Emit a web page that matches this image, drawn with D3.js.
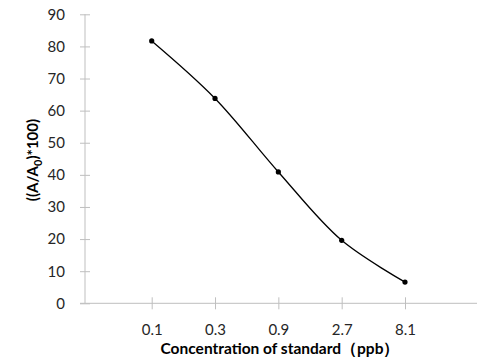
<!DOCTYPE html>
<html>
<head>
<meta charset="utf-8">
<script src="https://cdn.jsdelivr.net/npm/d3@7"></script>
<style>
  body { margin: 0; background: #fff; }
  text { font-family: Lato, "Open Sans", sans-serif; }
</style>
</head>
<body>
<div id="chart"></div>
<script>
// data
var categories = ["0.1", "0.3", "0.9", "2.7", "8.1"];
var values = [81.7, 63.8, 40.9, 19.6, 6.6];
var yTicks = [0, 10, 20, 30, 40, 50, 60, 70, 80, 90];

var width = 480, height = 360;
var axisColor = "#bfbfbf", textColor = "#262626";

var svg = d3.select("#chart").append("svg")
    .attr("width", width)
    .attr("height", height);

//scales
var x = d3.scalePoint().domain(categories).range([151.7, 405]);
var y = d3.scaleLinear().domain([0, 90]).range([303.3, 14.3]);

// y axis
var yAxis = svg.append("g")
    .attr("transform", "translate(85,0)")
    .call(d3.axisLeft(y).tickValues(yTicks).tickSize(5).tickPadding(15));
yAxis.select(".domain").remove();
yAxis.selectAll(".tick line").attr("x1", 5).attr("x2", -5).attr("stroke", axisColor);
yAxis.selectAll(".tick text").attr("fill", textColor).style("font-size", "15px");
svg.append("line")
    .attr("x1", 85).attr("x2", 85)
    .attr("y1", y(90)).attr("y2", y(0))
    .attr("stroke", axisColor);

// x axis
var xAxis = svg.append("g")
    .attr("transform", "translate(0," + y(0) + ")")
    .call(d3.axisBottom(x).tickSize(6).tickPadding(15));
xAxis.select(".domain").remove();
xAxis.selectAll(".tick line").attr("y1", -6).attr("y2", 6).attr("stroke", axisColor);
xAxis.selectAll(".tick text").attr("fill", textColor).style("font-size", "15px");
svg.append("line")
    .attr("x1", 80).attr("x2", 477)
    .attr("y1", y(0)).attr("y2", y(0))
    .attr("stroke", axisColor);

// smoothed line
var line = d3.line()
    .x(function(d, i){ return x(categories[i]); })
    .y(function(d){ return y(d); })
    .curve(d3.curveCatmullRom.alpha(0.5));

svg.append("path")
    .datum(values)
    .attr("d", line)
    .attr("fill", "none")
    .attr("stroke", "#000")
    .attr("stroke-width", 1.3);

svg.selectAll(".dot")
    .data(values)
    .enter().append("circle")
    .attr("class", "dot")
    .attr("cx", function(d, i){ return x(categories[i]); })
    .attr("cy", function(d){ return y(d); })
    .attr("r", 2.6)
    .attr("fill", "#000");

// axis titles
svg.append("text")
    .attr("x", 280)
    .attr("y", 354)
    .attr("text-anchor", "middle")
    .attr("fill", "#000")
    .style("font-size", "15.5px")
    .style("font-weight", "bold")
    .text("Concentration of standard（ppb）");

var yTitle = svg.append("text")
    .attr("transform", "translate(38,160) rotate(-90)")
    .attr("text-anchor", "middle")
    .attr("fill", "#000")
    .style("font-size", "15px")
    .style("font-weight", "bold");
yTitle.append("tspan").text("((A/A");
yTitle.append("tspan").attr("dy", 4).style("font-size", "11px").text("0");
yTitle.append("tspan").attr("dy", -4).text(")*100)");
</script>
</body>
</html>
